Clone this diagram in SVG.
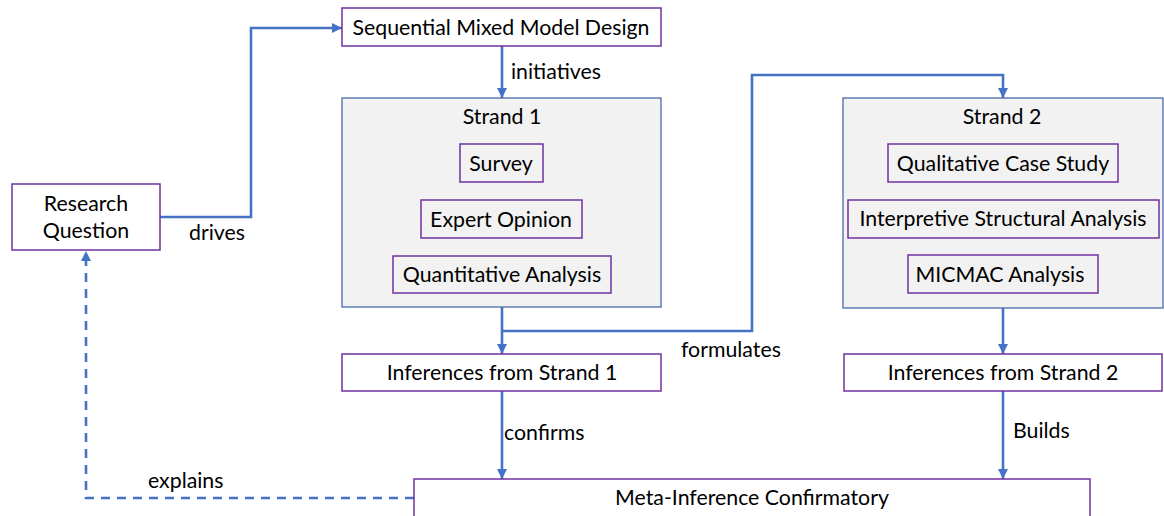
<svg xmlns="http://www.w3.org/2000/svg" width="1164" height="516" viewBox="0 0 1164 516">
<defs>
<style>
text{font-family:Lato,"Open Sans",sans-serif;font-size:21.3px;fill:#000}
.c{text-anchor:middle}
.box{fill:#fff;stroke:#7030a0;stroke-width:1.5}
.strand{fill:#f2f2f2;stroke:#4a6aa8;stroke-width:1.3}
.inner{fill:#f2f2f2;stroke:#7030a0;stroke-width:1.5}
.con{fill:none;stroke:#4472c4;stroke-width:2.6}
.dash{stroke-dasharray:9 7}
</style>
<marker id="ah" viewBox="0 0 10 10" refX="10" refY="5" markerWidth="4" markerHeight="4" orient="auto" markerUnits="strokeWidth">
<path d="M0,0 L10,5 L0,10 z" fill="#4472c4"/>
</marker>
</defs>
<rect width="1164" height="516" fill="#fff"/>
<g id="connectors">
<polyline class="con" points="160,217 251,217 251,28 342,28" marker-end="url(#ah)"/>
<line class="con" x1="502" y1="46" x2="502" y2="98" marker-end="url(#ah)"/>
<line class="con" x1="502" y1="307" x2="502" y2="354" marker-end="url(#ah)"/>
<polyline class="con" points="502,331 752,331 752,75 1003,75 1003,98" marker-end="url(#ah)"/>
<line class="con" x1="1003" y1="308" x2="1003" y2="354" marker-end="url(#ah)"/>
<line class="con" x1="502" y1="391" x2="502" y2="479" marker-end="url(#ah)"/>
<line class="con" x1="1003" y1="391" x2="1003" y2="479" marker-end="url(#ah)"/>
<polyline class="con dash" points="414,498 86,498 86,251" marker-end="url(#ah)"/>
<text x="189" y="240">drives</text>
<text x="511" y="79">initiatives</text>
<text x="681" y="357">formulates</text>
<text x="504" y="440">confirms</text>
<text x="1013" y="438">Builds</text>
<text x="148" y="488">explains</text>
</g>
<g id="research-question">
<rect class="box" x="12" y="184" width="148" height="66"/>
<text class="c" x="86" y="211">Research</text>
<text class="c" x="86" y="238">Question</text>
</g>
<g id="sequential-design">
<rect class="box" x="342" y="8" width="319" height="38"/>
<text class="c" x="501" y="35">Sequential Mixed Model Design</text>
</g>
<g id="strand1">
<rect class="strand" x="342" y="98" width="319" height="209"/>
<text class="c" x="502" y="124">Strand 1</text>
</g>
<g id="survey">
<rect class="inner" x="460" y="144" width="83" height="38"/>
<text class="c" x="501" y="171">Survey</text>
</g>
<g id="expert-opinion">
<rect class="inner" x="421" y="200" width="161" height="38"/>
<text class="c" x="501" y="227">Expert Opinion</text>
</g>
<g id="quantitative-analysis">
<rect class="inner" x="393" y="256" width="218" height="37"/>
<text class="c" x="502" y="282">Quantitative Analysis</text>
</g>
<g id="strand2">
<rect class="strand" x="843" y="98" width="320" height="210"/>
<text class="c" x="1002" y="124">Strand 2</text>
</g>
<g id="qualitative-case-study">
<rect class="inner" x="888" y="144" width="230" height="38"/>
<text class="c" x="1003" y="171">Qualitative Case Study</text>
</g>
<g id="interpretive-structural-analysis">
<rect class="inner" x="848" y="200" width="311" height="38"/>
<text class="c" x="1003" y="226">Interpretive Structural Analysis</text>
</g>
<g id="micmac-analysis">
<rect class="inner" x="908" y="255" width="190" height="38"/>
<text class="c" x="1000" y="282">MICMAC Analysis</text>
</g>
<g id="inferences1">
<rect class="box" x="342" y="354" width="319" height="37"/>
<text class="c" x="502" y="380">Inferences from Strand 1</text>
</g>
<g id="inferences2">
<rect class="box" x="844" y="354" width="318" height="37"/>
<text class="c" x="1003" y="380">Inferences from Strand 2</text>
</g>
<g id="meta-inference">
<rect class="box" x="414" y="479" width="676" height="60"/>
<text class="c" x="752" y="505">Meta-Inference Confirmatory</text>
</g>
</svg>
